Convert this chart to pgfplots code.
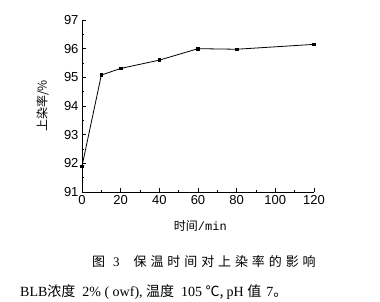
\documentclass[border=0pt]{standalone}
\usepackage{pgfplots}
\pgfplotsset{compat=1.18}
\usepackage{fontspec}
\setmainfont{Liberation Sans}
\newfontfamily\cjk{Noto Sans CJK SC}
\newfontfamily\cjkwide{Noto Sans CJK SC}[LetterSpace=30]
\newfontfamily\serif{Liberation Serif}
\begin{document}
\begin{tikzpicture}[x=1pt,y=1pt]
\useasboundingbox (-82,-110) rectangle (298,192);
\begin{axis}[
  at={(0,0)}, anchor=origin,
  scale only axis, width=232pt, height=172pt,
  xmin=0, xmax=120, ymin=91, ymax=97,
  axis x line=bottom, axis y line=left,
  axis line style={-, line width=0.8pt},
  tick align=inside,
  xtick={0,20,40,60,80,100,120},
  ytick={91,92,93,94,95,96,97},
  minor x tick num=1, minor y tick num=1,
  major tick length=4pt, minor tick length=2pt,
  tick style={black, line width=0.6pt},
  tick label style={font=\fontsize{13}{13}\selectfont},
  /pgf/number format/assume math mode=true,
  clip=false,
  xlabel={\cjk 时间\fontspec{Liberation Mono}/min},
  xlabel style={at={(axis description cs:0.51,-0.2)}, anchor=center, font=\fontsize{12}{12}\selectfont},
  ylabel={\cjk 上染率/\%},
  ylabel style={at={(axis description cs:-0.17,0.5)}, anchor=center, font=\fontsize{12}{12}\selectfont},
]
\addplot[black, line width=0.8pt, mark=square*, mark size=1.3pt] coordinates {
(0,91.9) (10,95.08) (20,95.31) (40,95.6) (60,96.0) (80,95.98) (120,96.15)
};
\end{axis}
\node[anchor=west, font=\fontsize{13}{13}\selectfont, inner sep=0pt] at (10,-70) {\cjk 图\hspace{8pt}\serif 3\hspace{14pt}\cjkwide 保温时间对上染率的影响};
\node[anchor=west, font=\fontsize{14}{14}\selectfont, inner sep=0pt] at (-62,-100) {\serif BLB\cjk 浓度\hspace{7pt}\serif 2\% ( owf), \cjk 温度\hspace{7pt}\serif 105 \cjk ℃, \serif pH \cjk 值\hspace{5pt}\serif 7\cjk 。};
\end{tikzpicture}
\end{document}
